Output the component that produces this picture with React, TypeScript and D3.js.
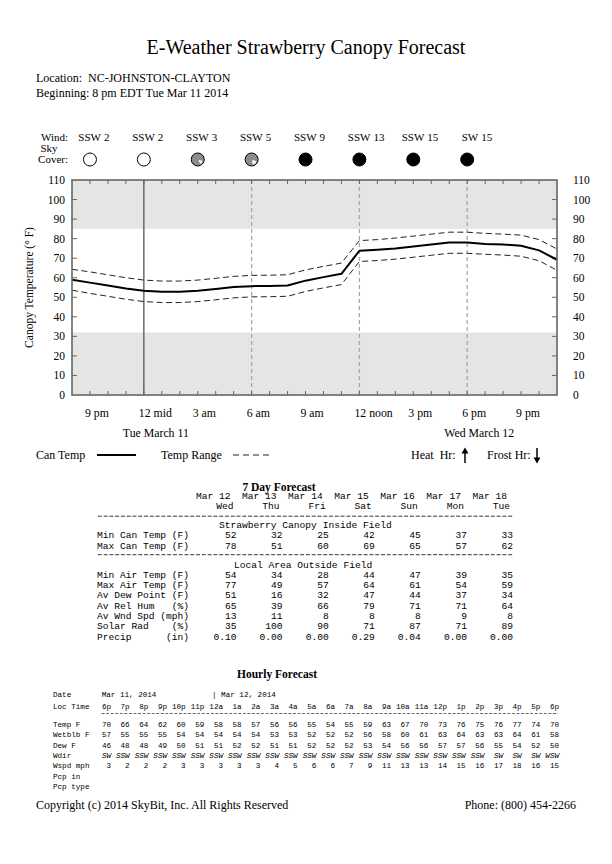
import React from 'react';
import * as d3 from 'd3';

// ---------- Chart data (hour index 0 = 8 pm Tue Mar 11) ----------
const canopyTemp = [59, 57.5, 56, 54.5, 53.3, 52.8, 52.8, 53.3, 54.2, 55.2, 55.7, 55.8, 56, 58.5, 60.3, 62, 73.8, 74.3, 75, 76, 77, 78, 78, 77.3, 77, 76.4, 74, 69.2];
const tempHigh = [64.3, 63, 61.5, 60, 58.8, 58.3, 58.3, 58.8, 59.7, 60.7, 61.2, 61.3, 61.5, 64, 65.8, 67.5, 79, 79.5, 80.3, 81.3, 82.3, 83.3, 83.3, 82.7, 82.3, 81.8, 79.5, 74.7];
const tempLow = [53.6, 52, 50.5, 49, 47.8, 47.3, 47.3, 47.8, 48.7, 49.7, 50.2, 50.3, 50.5, 53, 54.8, 56.5, 68.3, 68.8, 69.5, 70.5, 71.5, 72.5, 72.5, 72, 71.6, 71, 68.7, 63.8];
const hourCount = 27;
const yTicks = [0, 10, 20, 30, 40, 50, 60, 70, 80, 90, 100, 110];
const frostBand = [0, 32];
const heatBand = [85, 110];
const xTickHours = [1, 4, 7, 10, 13, 16, 19, 22, 25];
const xTickLabels = ['9 pm', '12 mid', '3 am', '6 am', '9 am', '12 noon', '3 pm', '6 pm', '9 pm'];
const midnightHour = 4;
const gridHours = [10, 16, 22];
const dateLabelHours = [4, 22];
const dateLabels = ['Tue March 11', 'Wed March 12'];

const windHours = [1, 4, 7, 10, 13, 16, 19, 22];
const windDir = ['SSW', 'SSW', 'SSW', 'SSW', 'SSW', 'SSW', 'SSW', 'SW'];
const windSpeed = [2, 2, 3, 5, 9, 13, 15, 15];
const skyCover = [0, 0, 88, 85, 100, 100, 100, 100];

// ---------- 7 day table ----------
const dayDates = ['Mar 12', 'Mar 13', 'Mar 14', 'Mar 15', 'Mar 16', 'Mar 17', 'Mar 18'];
const dayNames = ['Wed', 'Thu', 'Fri', 'Sat', 'Sun', 'Mon', 'Tue'];
const canopyRowLabels = ['Min Can Temp (F)', 'Max Can Temp (F)'];
const minCanTemp = [52, 32, 25, 42, 45, 37, 33];
const maxCanTemp = [78, 51, 60, 69, 65, 57, 62];
const localRowLabels = ['Min Air Temp (F)', 'Max Air Temp (F)', 'Av Dew Point (F)', 'Av Rel Hum   (%)', 'Av Wnd Spd (mph)', 'Solar Rad    (%)', 'Precip      (in)'];
const minAirTemp = [54, 34, 28, 44, 47, 39, 35];
const maxAirTemp = [77, 49, 57, 64, 61, 54, 59];
const avDewPoint = [51, 16, 32, 47, 44, 37, 34];
const avRelHum = [65, 39, 66, 79, 71, 71, 64];
const avWndSpd = [13, 11, 8, 8, 8, 9, 8];
const solarRad = [35, 100, 90, 71, 87, 71, 89];
const precip = ['0.10', '0.00', '0.00', '0.29', '0.04', '0.00', '0.00'];

// ---------- Hourly table ----------
const hourlyTimes = ['6p', '7p', '8p', '9p', '10p', '11p', '12a', '1a', '2a', '3a', '4a', '5a', '6a', '7a', '8a', '9a', '10a', '11a', '12p', '1p', '2p', '3p', '4p', '5p', '6p'];
const hourlyTemp = [70, 66, 64, 62, 60, 59, 58, 58, 57, 56, 56, 55, 54, 55, 59, 63, 67, 70, 73, 76, 75, 76, 77, 74, 70];
const hourlyWetblb = [57, 55, 55, 55, 54, 54, 54, 54, 54, 53, 53, 52, 52, 52, 56, 58, 60, 61, 63, 64, 63, 63, 64, 61, 58];
const hourlyDew = [46, 48, 48, 49, 50, 51, 51, 52, 52, 51, 51, 52, 52, 52, 53, 54, 56, 56, 57, 57, 56, 55, 54, 52, 50];
const hourlyWdir = ['SW', 'SSW', 'SSW', 'SSW', 'SSW', 'SSW', 'SSW', 'SSW', 'SSW', 'SSW', 'SSW', 'SSW', 'SSW', 'SSW', 'SSW', 'SSW', 'SSW', 'SSW', 'SSW', 'SSW', 'SSW', 'SW', 'SW', 'SW', 'WSW'];
const hourlyWspd = [3, 2, 2, 2, 3, 3, 3, 3, 3, 4, 5, 6, 6, 7, 9, 11, 13, 13, 14, 15, 16, 17, 18, 16, 15];
const hourlyLabels = ['Temp F', 'Wetblb F', 'Dew F', 'Wdir', 'Wspd mph', 'Pcp in', 'Pcp type'];
const hourlyDates = ['Mar 11, 2014', '| Mar 12, 2014'];
const hourlyDateCols = [0, 6];

const SERIF = "'Liberation Serif', 'DejaVu Serif', serif";
const MONO = "'Liberation Mono', 'DejaVu Sans Mono', monospace";
const pre = (s: string) => s.replace(/ /g, '\u00a0');

export default function App() {
  const x = d3.scaleLinear().domain([0, hourCount]).range([72, 557]);
  const y = d3.scaleLinear().domain([0, 110]).range([395, 180]);
  const line = d3.line<number>().x((_, i) => x(i)).y((d) => y(d));
  const frame = '#666';

  const colEnd = d3.scaleLinear().domain([0, 6]).range([236.5, 513]);
  const hCol = d3.scaleLinear().domain([0, 24]).range([111, 559]);

  const wedge = d3.arc();

  const sevenRows = [
    { label: canopyRowLabels[0], vals: minCanTemp, y: 538 },
    { label: canopyRowLabels[1], vals: maxCanTemp, y: 548.5 },
  ];
  const localVals = [minAirTemp, maxAirTemp, avDewPoint, avRelHum, avWndSpd, solarRad, precip];
  const localY = [577.8, 588.1, 598.4, 608.7, 619, 629.3, 639.6];

  const hourlyRows: (number | string)[][] = [hourlyTemp, hourlyWetblb, hourlyDew, hourlyWdir, hourlyWspd, [], []];
  const hourlyY = [727, 737.3, 747.6, 757.9, 768.2, 778.5, 788.8];

  return (
    <svg width={612} height={864} style={{ position: 'absolute', left: 0, top: 0, background: '#fff' }} fontFamily={SERIF}>
      <rect x={0} y={0} width={612} height={864} fill="#fff" />
      {/* Header */}
      <text x={306} y={54} fontSize={20} textAnchor="middle">E-Weather Strawberry Canopy Forecast</text>
      <text x={36} y={82} fontSize={12}>{pre('Location:  NC-JOHNSTON-CLAYTON')}</text>
      <text x={36} y={97} fontSize={12}>Beginning: 8 pm EDT Tue Mar 11 2014</text>

      {/* Wind & sky */}
      <text x={68} y={141} fontSize={11} textAnchor="end">Wind:</text>
      <text x={49} y={152} fontSize={11} textAnchor="middle">Sky</text>
      <text x={68} y={163} fontSize={11} textAnchor="end">Cover:</text>
      {windHours.map((h, i) => (
        <g key={'w' + i}>
          <text x={x(h) + 11} y={141} fontSize={11} textAnchor="end">{windDir[i]}</text>
          <text x={x(h) + 14} y={141} fontSize={11}>{windSpeed[i]}</text>
        </g>
      ))}
      {windHours.map((h, i) => {
        const cx = x(h);
        const cy = 159.5;
        const r = 6.5;
        const p = skyCover[i];
        if (p === 0) return <circle key={'s' + i} cx={cx} cy={cy} r={r} fill="#fff" stroke="#000" strokeWidth={1} />;
        if (p === 100) return <circle key={'s' + i} cx={cx} cy={cy} r={r} fill="#000" stroke="#000" strokeWidth={1} />;
        const start = 1.6 + i * 0.12;
        const end = start + ((100 - p) / 100) * Math.PI * 2;
        return (
          <g key={'s' + i}>
            <circle cx={cx} cy={cy} r={r} fill="#8c8c8c" stroke="#000" strokeWidth={1} />
            <path transform={`translate(${cx},${cy})`} d={wedge({ innerRadius: 1.5, outerRadius: r - 1.2, startAngle: start, endAngle: end }) as string} fill="#fff" />
          </g>
        );
      })}

      {/* Plot bands */}
      <rect x={x(0)} y={y(heatBand[1])} width={x(hourCount) - x(0)} height={y(heatBand[0]) - y(heatBand[1])} fill="#e5e5e5" />
      <rect x={x(0)} y={y(frostBand[1])} width={x(hourCount) - x(0)} height={y(frostBand[0]) - y(frostBand[1])} fill="#e5e5e5" />

      {/* grid verticals */}
      {gridHours.map((h) => (
        <line key={'g' + h} x1={x(h)} x2={x(h)} y1={y(110)} y2={y(0)} stroke="#a8a8a8" strokeWidth={1.3} strokeDasharray="4,3" />
      ))}
      <line x1={x(midnightHour)} x2={x(midnightHour)} y1={y(110)} y2={y(0)} stroke="#555" strokeWidth={1.3} />

      {/* hour ticks */}
      {d3.range(1, hourCount).map((h) => (
        <g key={'t' + h}>
          <line x1={x(h)} x2={x(h)} y1={y(110)} y2={y(110) + 4} stroke={frame} strokeWidth={1} />
          <line x1={x(h)} x2={x(h)} y1={y(0)} y2={y(0) - 4} stroke={frame} strokeWidth={1} />
        </g>
      ))}
      {yTicks.slice(1, -1).map((v) => (
        <g key={'yt' + v}>
          <line x1={x(0)} x2={x(0) + 5} y1={y(v)} y2={y(v)} stroke={frame} strokeWidth={1} />
          <line x1={x(hourCount)} x2={x(hourCount) - 5} y1={y(v)} y2={y(v)} stroke={frame} strokeWidth={1} />
        </g>
      ))}

      {/* series */}
      <path d={line(tempHigh) as string} fill="none" stroke="#222" strokeWidth={1} strokeDasharray="6,3.5" />
      <path d={line(tempLow) as string} fill="none" stroke="#222" strokeWidth={1} strokeDasharray="6,3.5" />
      <path d={line(canopyTemp) as string} fill="none" stroke="#000" strokeWidth={2} strokeLinejoin="round" />

      <rect x={x(0)} y={y(110)} width={x(hourCount) - x(0)} height={y(0) - y(110)} fill="none" stroke={frame} strokeWidth={1.6} />

      {/* y tick labels */}
      {yTicks.map((v) => (
        <g key={'yl' + v} fontSize={11.5}>
          <text x={65} y={y(v) + 4} textAnchor="end">{v}</text>
          <text x={573} y={y(v) + 4}>{v}</text>
        </g>
      ))}
      <text transform={`translate(33,${y(55)}) rotate(-90)`} fontSize={11.5} textAnchor="middle">Canopy Temperature (° F)</text>

      {/* x labels */}
      {xTickHours.map((h, i) => (
        <text key={'xl' + i} x={x(h) - 5} y={417} fontSize={11.8}>{xTickLabels[i]}</text>
      ))}
      {dateLabelHours.map((h, i) => (
        <text key={'dl' + i} x={x(h) + 12} y={437} fontSize={11.8} textAnchor="middle">{dateLabels[i]}</text>
      ))}

      {/* legend */}
      <text x={36} y={459} fontSize={12}>Can Temp</text>
      <line x1={97} x2={136} y1={455} y2={455} stroke="#000" strokeWidth={2} />
      <text x={161} y={459} fontSize={12}>Temp Range</text>
      <line x1={233} x2={272} y1={455} y2={455} stroke="#222" strokeWidth={1} strokeDasharray="6,4" />
      <text x={411} y={459} fontSize={12}>{pre('Heat  Hr:')}</text>
      <line x1={465} x2={465} y1={463} y2={452} stroke="#000" strokeWidth={1.5} />
      <path d="M461.5,453.5 L465,447.5 L468.5,453.5 Z" fill="#000" />
      <text x={487} y={459} fontSize={12}>Frost Hr:</text>
      <line x1={537} x2={537} y1={448} y2={459} stroke="#000" strokeWidth={1.5} />
      <path d="M533.5,457.5 L537,463.5 L540.5,457.5 Z" fill="#000" />

      {/* 7 day forecast */}
      <text x={279} y={490.5} fontSize={11.5} fontWeight="bold" textAnchor="middle">7 Day Forecast</text>
      <g fontFamily={MONO} fontSize={9.6}>
        {dayDates.map((d, i) => (
          <text key={'dd' + i} x={colEnd(i) - 6} y={499} textAnchor="end">{pre(d)}</text>
        ))}
        {dayNames.map((d, i) => (
          <text key={'dn' + i} x={colEnd(i) - 3} y={508.8} textAnchor="end">{d}</text>
        ))}
        <line x1={97.8} x2={513} y1={516.2} y2={516.2} stroke="#000" strokeWidth={0.8} strokeDasharray="4,1.78" />
        <text x={219} y={528}>{pre('Strawberry Canopy Inside Field')}</text>
        {sevenRows.map((r, ri) => (
          <g key={'sr' + ri}>
            <text x={97} y={r.y}>{pre(r.label)}</text>
            {r.vals.map((v, i) => (
              <text key={i} x={colEnd(i)} y={r.y} textAnchor="end">{v}</text>
            ))}
          </g>
        ))}
        <line x1={97.8} x2={513} y1={554.7} y2={554.7} stroke="#000" strokeWidth={0.8} strokeDasharray="4,1.78" />
        <text x={234} y={567.5}>{pre('Local Area Outside Field')}</text>
        {localRowLabels.map((lab, ri) => (
          <g key={'lr' + ri}>
            <text x={97} y={localY[ri]}>{pre(lab)}</text>
            {localVals[ri].map((v, i) => (
              <text key={i} x={colEnd(i)} y={localY[ri]} textAnchor="end">{v}</text>
            ))}
          </g>
        ))}
      </g>

      {/* Hourly forecast */}
      <text x={277} y={678} fontSize={11.5} fontWeight="bold" textAnchor="middle">Hourly Forecast</text>
      <g fontFamily={MONO} fontSize={7.6}>
        <text x={53} y={697}>Date</text>
        {hourlyDates.map((d, i) => (
          <text key={'hd' + i} x={hCol(hourlyDateCols[i]) - (i === 0 ? 9.3 : 11)} y={697}>{pre(d)}</text>
        ))}
        <text x={53} y={708.5}>{pre('Loc Time')}</text>
        {hourlyTimes.map((t, i) => (
          <text key={'ht' + i} x={hCol(i)} y={708.5} textAnchor="end">{t}</text>
        ))}
        <line x1={101.5} x2={558} y1={713.5} y2={713.5} stroke="#000" strokeWidth={0.6} strokeDasharray="3,1.56" />
        {hourlyLabels.map((lab, ri) => (
          <g key={'hr' + ri}>
            <text x={53} y={hourlyY[ri]}>{pre(lab)}</text>
            {hourlyRows[ri].map((v, i) => (
              <text key={i} x={hCol(i)} y={hourlyY[ri]} textAnchor="end" fontStyle={ri === 3 ? 'italic' : 'normal'}>{v}</text>
            ))}
          </g>
        ))}
      </g>

      {/* footer */}
      <text x={36} y={809} fontSize={12}>Copyright (c) 2014 SkyBit, Inc. All Rights Reserved</text>
      <text x={576} y={809} fontSize={12} textAnchor="end">Phone: (800) 454-2266</text>
    </svg>
  );
}
